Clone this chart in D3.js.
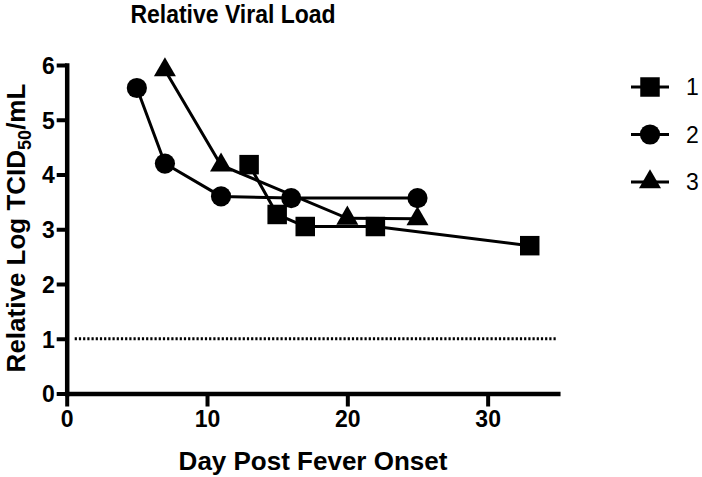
<!DOCTYPE html>
<html>
<head>
<script src="https://d3js.org/d3.v7.min.js"></script>
<style>
  body { margin: 0; background: #fff; }
  text { font-family: "Liberation Sans", Arial, sans-serif; }
</style>
</head>
<body>
<svg id="chart" width="702" height="477"></svg>
<script>
// data
const seriesNames = ["1", "2", "3"];
const days1 = [13, 15, 17, 22, 33];
const load1 = [4.18, 3.27, 3.05, 3.05, 2.7];
const days2 = [5, 7, 11, 16, 25];
const load2 = [5.58, 4.2, 3.6, 3.57, 3.57];
const days3 = [7, 11, 20, 25];
const load3 = [5.91, 4.17, 3.2, 3.19];
const xTicks = [0, 10, 20, 30];
const yTicks = [0, 1, 2, 3, 4, 5, 6];
const limitOfDetection = 1;

const svg = d3.select("#chart");

const x = d3.scaleLinear().domain([0, 35]).range([66.7, 557.8]);
const y = d3.scaleLinear().domain([0, 6]).range([393.5, 65]);

const series = [
  { name: seriesNames[0], days: days1, load: load1, shape: d3.symbolSquare, size: 380 },
  { name: seriesNames[1], days: days2, load: load2, shape: d3.symbolCircle, size: 320 },
  { name: seriesNames[2], days: days3, load: load3, shape: d3.symbolTriangle, size: 210 }
];

// title (text in the picture is a bit stretched upward)
svg.append("text")
  .attr("transform", "translate(233,23) scale(1,1.1)")
  .attr("text-anchor", "middle")
  .attr("font-weight", "bold")
  .attr("font-size", "23px")
  .text("Relative Viral Load");

// dotted line at 1
svg.append("line")
  .attr("x1", x(0) + 8).attr("x2", x(35) - 2)
  .attr("y1", y(limitOfDetection)).attr("y2", y(limitOfDetection))
  .attr("stroke", "#000")
  .attr("stroke-width", 3)
  .attr("stroke-dasharray", "2.2,2");

// lines + markers
const line = d3.line().x(d => x(d[0])).y(d => y(d[1]));

series.forEach(s => {
  const pts = s.days.map((d, i) => [d, s.load[i]]);
  svg.append("path")
    .attr("d", line(pts))
    .attr("fill", "none")
    .attr("stroke", "#000")
    .attr("stroke-width", 3);
  svg.selectAll(null)
    .data(pts)
    .enter().append("path")
    .attr("transform", d => `translate(${x(d[0])},${y(d[1])})`)
    .attr("d", d3.symbol().type(s.shape).size(s.size))
    .attr("fill", "#000");
});

// axes
const xAxis = svg.append("g")
  .attr("transform", `translate(0,${y(0)})`)
  .call(d3.axisBottom(x).tickValues(xTicks).tickFormat(d3.format("d"))
    .tickSize(13).tickSizeOuter(0).tickPadding(4));
const yAxis = svg.append("g")
  .attr("transform", `translate(${x(0)},0)`)
  .call(d3.axisLeft(y).tickValues(yTicks).tickFormat(d3.format("d"))
    .tickSize(10).tickSizeOuter(0).tickPadding(2));

[xAxis, yAxis].forEach(a => {
  a.select(".domain").attr("stroke-width", 4.5).attr("stroke-linecap", "square");
  a.selectAll(".tick line").attr("stroke-width", 4);
  a.selectAll(".tick text")
    .attr("font-size", "23px")
    .attr("font-weight", "bold")
    .attr("fill", "#000")
    .style("font-family", "'Liberation Sans', Arial, sans-serif");
});
yAxis.selectAll(".tick text").attr("dy", "0.36em");

// axis titles
svg.append("text")
  .attr("x", 313).attr("y", 470)
  .attr("text-anchor", "middle")
  .attr("font-weight", "bold")
  .attr("font-size", "26px")
  .text("Day Post Fever Onset");

const yLabel = svg.append("text")
  .attr("transform", "translate(25,228) rotate(-90)")
  .attr("text-anchor", "middle")
  .attr("font-weight", "bold")
  .attr("font-size", "26px");
yLabel.append("tspan").text("Relative Log TCID");
yLabel.append("tspan").attr("font-size", "18px").attr("dy", "6").text("50");
yLabel.append("tspan").attr("dy", "-6").text("/mL");

// legend
const legend = svg.append("g");
series.forEach((s, i) => {
  const g = legend.append("g").attr("transform", `translate(650,${87 + i * 47.5})`);
  g.append("line").attr("x1", -19).attr("x2", 19)
    .attr("stroke", "#000").attr("stroke-width", 3);
  g.append("path")
    .attr("d", d3.symbol().type(s.shape).size(s.size))
    .attr("fill", "#000");
  g.append("text")
    .attr("x", 36).attr("y", 8)
    .attr("font-size", "23px")
    .text(s.name);
});
</script>
</body>
</html>
